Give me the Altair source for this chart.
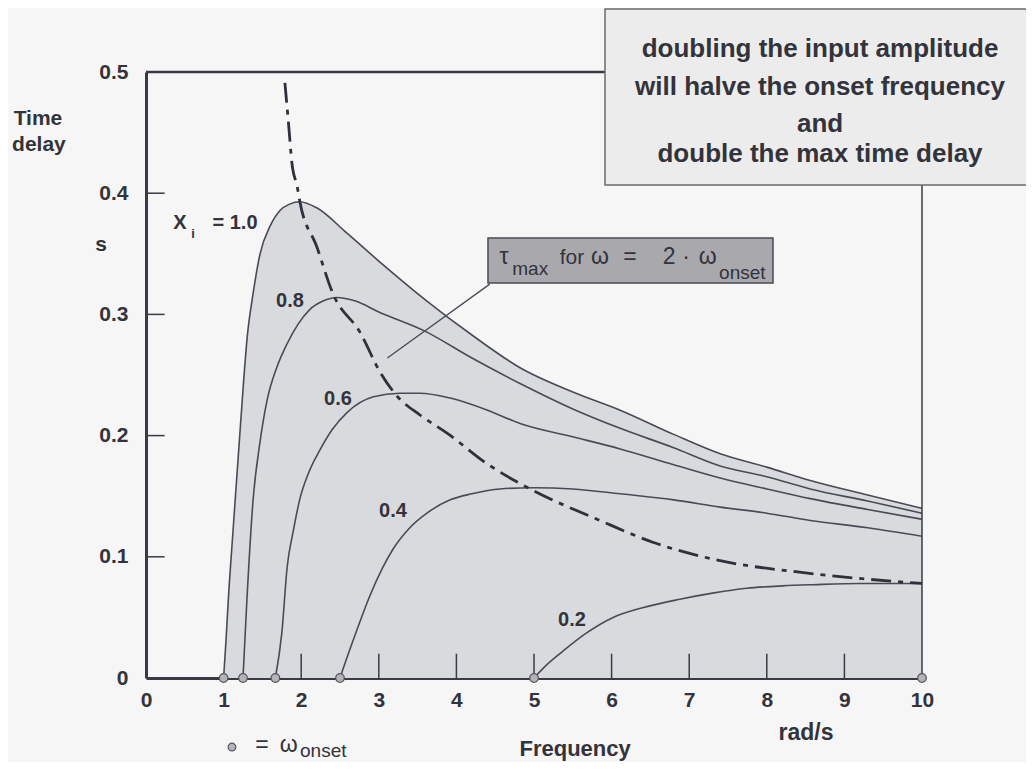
import altair as alt
import pandas as pd

# ---------------- data ----------------
amplitudes = ["1.0", "0.8", "0.6", "0.4", "0.2"]

freq_10 = [1.0, 1.03, 1.06, 1.12, 1.21, 1.31, 1.37, 1.47, 1.6, 1.73, 1.85, 1.98,
           2.2, 2.59, 3.0, 3.62, 4.2, 4.82, 5.5, 6.11, 6.8, 7.4, 8.0, 8.56, 9.3, 10.0]
delay_10 = [0.0, 0.03, 0.064, 0.12, 0.202, 0.285, 0.313, 0.350, 0.373, 0.386, 0.391, 0.393,
            0.388, 0.367, 0.344, 0.311, 0.283, 0.256, 0.236, 0.221, 0.201, 0.185, 0.174, 0.163, 0.151, 0.140]

freq_08 = [1.25, 1.3, 1.38, 1.47, 1.56, 1.69, 1.82, 1.96, 2.11, 2.28, 2.46, 2.7, 3.0,
           3.6, 4.2, 4.82, 5.5, 6.11, 6.8, 7.4, 8.0, 8.56, 9.3, 10.0]
delay_08 = [0.0, 0.064, 0.147, 0.195, 0.229, 0.257, 0.276, 0.292, 0.304, 0.311, 0.314, 0.311, 0.302,
            0.286, 0.264, 0.243, 0.222, 0.206, 0.19, 0.175, 0.166, 0.156, 0.146, 0.136]

freq_06 = [1.667, 1.75, 1.82, 1.9, 1.98, 2.1, 2.24, 2.4, 2.59, 2.93, 3.27, 3.53, 3.92,
           4.4, 4.82, 5.5, 6.11, 6.8, 7.4, 8.0, 8.56, 9.3, 10.0]
delay_06 = [0.0, 0.037, 0.092, 0.122, 0.147, 0.17, 0.188, 0.205, 0.219, 0.232, 0.235, 0.235, 0.231,
            0.221, 0.21, 0.199, 0.189, 0.176, 0.165, 0.156, 0.148, 0.139, 0.131]

freq_04 = [2.5, 2.58, 2.72, 2.88, 3.05, 3.18, 3.4, 3.62, 3.92, 4.2, 4.56, 5.0, 5.5,
           6.11, 6.8, 7.4, 8.0, 8.56, 9.3, 10.0]
delay_04 = [0.0, 0.015, 0.04, 0.067, 0.091, 0.106, 0.124, 0.136, 0.147, 0.152, 0.156, 0.157, 0.156,
            0.152, 0.147, 0.141, 0.136, 0.130, 0.124, 0.117]

freq_02 = [5.0, 5.15, 5.37, 5.65, 6.02, 6.4, 6.88, 7.3, 7.74, 8.2, 8.6, 9.2, 10.0]
delay_02 = [0.0, 0.01, 0.022, 0.036, 0.05, 0.058, 0.065, 0.07, 0.074, 0.076, 0.077, 0.078, 0.078]

# tau_max locus (omega = 2 * omega_onset), dash-dot curve
peak_freq = [1.79, 1.84, 1.88, 1.95, 1.98, 2.2, 2.41, 2.76, 3.02, 3.23, 3.53, 3.88, 4.39,
             4.95, 5.85, 6.53, 7.31, 8.6, 10.0]
peak_delay = [0.491, 0.455, 0.425, 0.405, 0.394, 0.356, 0.317, 0.285, 0.252, 0.233, 0.217, 0.202, 0.177,
              0.156, 0.130, 0.112, 0.098, 0.086, 0.078]

onset_freq = [1.0, 1.25, 1.667, 2.5, 5.0, 10.0]

x_tick_values = [0, 1, 2, 3, 4, 5, 6, 7, 8, 9, 10]
y_tick_values = [0, 0.1, 0.2, 0.3, 0.4, 0.5]
x_inner_ticks = [2, 3, 4, 5, 6, 7, 8, 9]
y_inner_ticks = [0.1, 0.2, 0.3, 0.4]

box_lines = ["doubling the input amplitude", "will halve the onset frequency",
             "and", "double the max time delay"]

# ---------------- build tables ----------------
curve_sets = [(freq_10, delay_10), (freq_08, delay_08), (freq_06, delay_06),
              (freq_04, delay_04), (freq_02, delay_02)]
curves = pd.concat(
    [pd.DataFrame({"freq": f, "delay": d, "amp": a}) for (f, d), a in zip(curve_sets, amplitudes)],
    ignore_index=True)
envelope = pd.DataFrame({"freq": freq_10, "delay": delay_10, "base": 0.0})
locus = pd.DataFrame({"freq": peak_freq, "delay": peak_delay})
onsets = pd.DataFrame({"freq": onset_freq, "delay": [0.0] * len(onset_freq)})

FONT = "Liberation Sans"
INK = "#3a3a46"
TXT = "#33333b"
W, H = 776, 606

xsc = alt.Scale(domain=[0, 10], nice=False, zero=False)
ysc = alt.Scale(domain=[0, 0.5], nice=False, zero=False)

axis_common = dict(title=None, grid=False, ticks=False, tickSize=0, domainWidth=3,
                   domainColor=INK, labelFont=FONT, labelFontSize=21, labelFontWeight="bold",
                   labelColor=TXT, labelFlush=False, labelOverlap=False)
x_axis = alt.Axis(values=x_tick_values, labelPadding=11, **axis_common)
y_axis = alt.Axis(values=y_tick_values, labelPadding=18,
                  labelExpr="datum.value == 0 ? '0' : format(datum.value, '.1f')", **axis_common)


def X(f):
    return alt.X(f, scale=xsc, axis=x_axis, title=None)


def Y(f):
    return alt.Y(f, scale=ysc, axis=y_axis, title=None)


shade = alt.Chart(envelope).mark_area(color="#d9dadd", opacity=1, interpolate="monotone").encode(
    x=X("freq:Q"), y=Y("delay:Q"), y2="base:Q")

xt = pd.DataFrame({"x": x_inner_ticks, "y0": 0.0, "y1": 0.02})
xticks = alt.Chart(xt).mark_rule(color=INK, strokeWidth=1.5).encode(x=X("x:Q"), y=Y("y0:Q"), y2="y1:Q")
yt = pd.DataFrame({"y": y_inner_ticks, "x0": 0.0, "x1": 0.24})
yticks = alt.Chart(yt).mark_rule(color=INK, strokeWidth=1.5).encode(y=Y("y:Q"), x=X("x0:Q"), x2="x1:Q")

lines = alt.Chart(curves).mark_line(color="#4a4a56", strokeWidth=1.6, interpolate="monotone").encode(
    x=X("freq:Q"), y=Y("delay:Q"), detail="amp:N")

dashdot = alt.Chart(locus).mark_line(color="#30303c", strokeWidth=2.8, interpolate="monotone",
                                     strokeDash=[20, 7, 5, 7]).encode(x=X("freq:Q"), y=Y("delay:Q"))

frame = pd.DataFrame({"x0": [0.0, 10.0], "x1": [10.0, 10.0], "y0": [0.5, 0.0], "y1": [0.5, 0.5],
                      "w": [2.5, 1.5]})
frame_rules = alt.Chart(frame).mark_rule(color=INK).encode(
    x=X("x0:Q"), x2="x1:Q", y=Y("y0:Q"), y2="y1:Q", strokeWidth=alt.StrokeWidth("w:Q", scale=None))

leader = pd.DataFrame({"x0": [4.43], "y0": [0.325], "x1": [3.11], "y1": [0.264]})
leader_rule = alt.Chart(leader).mark_rule(color="#4a4a56", strokeWidth=1.3).encode(
    x=X("x0:Q"), y=Y("y0:Q"), x2="x1:Q", y2="y1:Q")

pts = alt.Chart(onsets).mark_point(filled=True, fill="#b3b3b8", stroke="#55555f", strokeWidth=1.2,
                                   size=75, opacity=1, shape="circle").encode(
    x=X("freq:Q"), y=Y("delay:Q"))

# annotation boxes
big_box = pd.DataFrame({"x0": [5.915], "x1": [11.40], "y0": [0.4068], "y1": [0.552]})
big_rect = alt.Chart(big_box).mark_rect(fill="#ececec", stroke="#6a6a6a", strokeWidth=1.5).encode(
    x=X("x0:Q"), x2="x1:Q", y=Y("y0:Q"), y2="y1:Q")
tau_box = pd.DataFrame({"x0": [4.407], "x1": [8.08], "y0": [0.326], "y1": [0.363]})
tau_rect = alt.Chart(tau_box).mark_rect(fill="#a9a9ad", stroke="#4a4a52", strokeWidth=1.5).encode(
    x=X("x0:Q"), x2="x1:Q", y=Y("y0:Q"), y2="y1:Q")


def text_layer(df, size, weight="bold", align="center", baseline="middle", color=TXT):
    return alt.Chart(df).mark_text(font=FONT, fontSize=size, fontWeight=weight, align=align,
                                   baseline=baseline, color=color).encode(
        x=X("x:Q"), y=Y("y:Q"), text="t:N")


box_txt = text_layer(pd.DataFrame({"x": [8.686] * 4, "y": [0.5124, 0.481, 0.4505, 0.4257],
                                   "t": box_lines}), 26, baseline="alphabetic")

titles_left = text_layer(pd.DataFrame({
    "x": [-1.392, -1.38], "y": [0.4563, 0.4348], "t": ["Time", "delay"]}), 21,
    baseline="alphabetic")
titles_bottom = text_layer(pd.DataFrame({
    "x": [5.53], "y": [-0.0644], "t": ["Frequency"]}), 22, baseline="alphabetic")
title_rad = text_layer(pd.DataFrame({"x": [8.505], "y": [-0.0455], "t": ["rad/s"]}), 23)
title_s = text_layer(pd.DataFrame({"x": [-0.58], "y": [0.357], "t": ["s"]}), 21)

curve_lbl = text_layer(pd.DataFrame({
    "x": [0.438, 1.147, 1.856, 2.474, 3.183, 5.49],
    "y": [0.3754, 0.3754, 0.311, 0.230, 0.1378, 0.0479],
    "t": ["X", "= 1.0", "0.8", "0.6", "0.4", "0.2"]}), 20)
curve_sub = text_layer(pd.DataFrame({"x": [0.606], "y": [0.366], "t": ["i"]}), 13)

tau_main = text_layer(pd.DataFrame({
    "x": [4.613, 5.85, 6.237, 6.74, 6.96, 7.24],
    "y": [0.3416] * 6,
    "t": ["τ", "ω", "=", "2", "·", "ω"]}), 23, weight="normal", baseline="alphabetic")
tau_for = text_layer(pd.DataFrame({"x": [5.49], "y": [0.3416], "t": ["for"]}), 21,
                     weight="normal", baseline="alphabetic")
tau_sub = text_layer(pd.DataFrame({"x": [4.72, 7.385], "y": [0.3325, 0.3292],
                                   "t": ["max", "onset"]}), 19, weight="normal", align="left",
                     baseline="alphabetic")

legend_pt = alt.Chart(pd.DataFrame({"x": [1.108], "y": [-0.0570]})).mark_point(
    filled=True, fill="#b3b3b8", stroke="#55555f", strokeWidth=1.2, size=60, opacity=1,
    shape="circle").encode(x=X("x:Q"), y=Y("y:Q"))
legend_main = text_layer(pd.DataFrame({"x": [1.495, 1.84], "y": [-0.0610, -0.0610],
                                       "t": ["=", "ω"]}), 23, weight="normal", baseline="alphabetic")
legend_sub = text_layer(pd.DataFrame({"x": [1.985], "y": [-0.0652], "t": ["onset"]}), 19,
                        weight="normal", align="left", baseline="alphabetic")

chart = alt.layer(
    shade, xticks, yticks, lines, dashdot, leader_rule, frame_rules, pts,
    big_rect, tau_rect, box_txt, titles_left, titles_bottom, title_rad, title_s, curve_lbl,
    curve_sub, tau_main, tau_for, tau_sub, legend_pt, legend_main, legend_sub,
).properties(
    width=W, height=H,
    padding={"left": 138, "top": 64, "right": 104, "bottom": 84},
    autosize=alt.AutoSizeParams(type="none"),
    background="#f6f6f6",
).configure_view(stroke=None)

chart.save("out.html", embed_options={"renderer": "svg", "actions": False})
